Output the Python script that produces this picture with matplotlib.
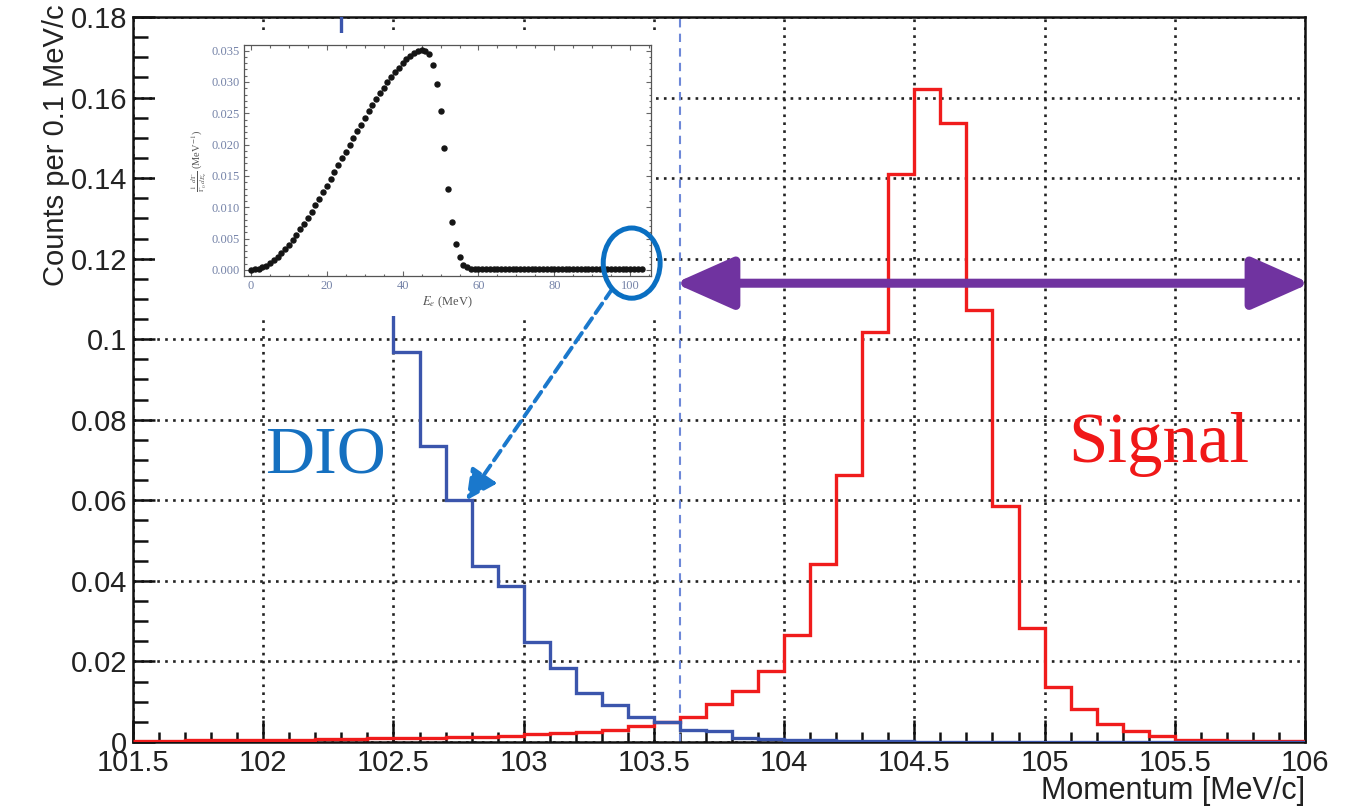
import numpy as np
import matplotlib
matplotlib.use("Agg")
from matplotlib import pyplot as plt
from matplotlib.patches import Rectangle, Ellipse
from matplotlib.ticker import MultipleLocator, FormatStrFormatter

plt.rcParams['font.family'] = ['Liberation Sans', 'DejaVu Sans']

# Histogram bins: 0.1 MeV/c wide from 101.5 to 106
bin_lo, bin_hi, bin_w = 101.5, 106.0, 0.1
signal_counts = [
    0.0003, 0.0003, 0.0004, 0.0004, 0.0005, 0.0005, 0.0006, 0.0007, 0.0008, 0.0009,
    0.0010, 0.0011, 0.0012, 0.0013, 0.0014,
    0.0019, 0.0022, 0.0025, 0.0030, 0.0040,
    0.0050, 0.0062, 0.0095, 0.0126, 0.0176,
    0.0266, 0.0442, 0.0663, 0.1018, 0.1410,
    0.1620, 0.1536, 0.1072, 0.0587, 0.0283,
    0.0137, 0.0083, 0.0044, 0.0027, 0.0014,
    0.0006, 0.0004, 0.0003, 0.0002, 0.0002,
]
# DIO: bins left of 102.3 are off scale, 102.3-102.5 hidden under the inset
dio_counts = [
    0.30, 0.29, 0.27, 0.26, 0.24, 0.23, 0.21, 0.20, 0.160, 0.125,
    0.0967, 0.0734, 0.0600, 0.0436, 0.0388,
    0.0248, 0.0184, 0.0122, 0.0093, 0.0062,
    0.0050, 0.0030, 0.0028, 0.0009, 0.0007,
    0.0005, 0.0004, 0.0003, 0.0002, 0.0002,
    0.0001, 0.0001, 0.0001, 0.0001, 0.0001,
    0.0001, 0.0001, 0.0001, 0.0001, 0.0001,
    0.0001, 0.0001, 0.0000, 0.0000, 0.0000,
]
cut_momentum = 103.6
window_lo, window_hi, window_y = 103.58, 106.02, 0.1139

# Inset: DIO spectrum, 1 MeV steps from 0 MeV
inset_spectrum = [
    0.0000, 0.0001, 0.0002, 0.0004, 0.0007, 0.0011, 0.0016, 0.0021, 0.0027, 0.0033,
    0.0040, 0.0048, 0.0056, 0.0065, 0.0074, 0.0083, 0.0093, 0.0103, 0.0113, 0.0124,
    0.0134, 0.0145, 0.0156, 0.0167, 0.0178, 0.0189, 0.0200, 0.0211, 0.0222, 0.0232,
    0.0243, 0.0253, 0.0263, 0.0273, 0.0282, 0.0291, 0.0300, 0.0308, 0.0316, 0.0323,
    0.0330, 0.0336, 0.0341, 0.0346, 0.0349, 0.0351, 0.0350, 0.0344, 0.0327, 0.0296,
    0.0254, 0.0194, 0.0130, 0.0077, 0.0041, 0.0020, 0.0008, 0.0004, 0.0002, 0.0001,
    0.0001, 0.0001, 0.0001, 0.0001, 0.0001, 0.0001, 0.0001, 0.0001, 0.0001, 0.0001,
    0.0001, 0.0001, 0.0001, 0.0001, 0.0001, 0.0001, 0.0001, 0.0001, 0.0001, 0.0001,
    0.0001, 0.0001, 0.0001, 0.0001, 0.0001, 0.0001, 0.0001, 0.0001, 0.0001, 0.0001,
    0.0001, 0.0001, 0.0001, 0.0001, 0.0001, 0.0001, 0.0001, 0.0001, 0.0001, 0.0001,
    0.0001, 0.0001, 0.0001, 0.0001,
]
zoom_point = (100.4, 0.0011)
dio_arrow_end = (102.78, 0.0600)

edges = np.round(np.linspace(bin_lo, bin_hi, len(signal_counts) + 1), 2)
energies = np.arange(len(inset_spectrum))

fig = plt.figure(figsize=(13.56, 8.08), dpi=100)
ax = fig.add_axes([0.0981, 0.0817, 0.8643, 0.8973])

ax.stairs(signal_counts, edges, baseline=None, color='#f01c1c', lw=2.4, zorder=3)
ax.stairs(dio_counts, edges, baseline=None, color='#3b55ac', lw=2.4, zorder=3)
ax.axvline(cut_momentum, color='#6d88d8', ls=(0, (4, 3)), lw=1.5, zorder=2)

ax.set_xlim(bin_lo, bin_hi)
ax.set_ylim(0, 0.18)
ax.xaxis.set_major_locator(MultipleLocator(0.5))
ax.xaxis.set_minor_locator(MultipleLocator(0.1))
ax.yaxis.set_major_locator(MultipleLocator(0.02))
ax.yaxis.set_minor_locator(MultipleLocator(0.005))
ax.xaxis.set_major_formatter(FormatStrFormatter('%g'))
ax.yaxis.set_major_formatter(FormatStrFormatter('%g'))
ax.tick_params(axis='both', which='both', direction='in', width=1.8, color='#111',
               labelsize=21, labelcolor='#222', top=False, right=False)
ax.tick_params(axis='y', which='major', length=16, pad=4)
ax.tick_params(axis='y', which='minor', length=10.5)
ax.tick_params(axis='x', which='major', length=16, pad=5)
ax.tick_params(axis='x', which='minor', length=7)
ax.grid(True, which='major', ls=(0, (1, 2.0)), color='#222', lw=1.9)
ax.set_axisbelow(True)
for s in ax.spines.values():
    s.set_linewidth(1.8)
    s.set_color('#111')

ax.set_ylabel('Counts per 0.1 MeV/c', fontsize=21, color='#222', loc='top')
ax.yaxis.set_label_coords(-0.054, 1.017)
ax.set_xlabel('Momentum [MeV/c]', fontsize=22, color='#222', loc='right')
ax.xaxis.set_label_coords(1.0, -0.047)

ax.text(102.24, 0.0667, 'DIO', family='Liberation Serif', fontsize=49,
        color='#1570c0', ha='center', va='baseline')
ax.text(105.44, 0.0695, 'Signal', family='Liberation Serif', fontsize=51,
        color='#f01818', ha='center', va='baseline')

ax.annotate('', xy=(window_hi, window_y), xytext=(window_lo, window_y),
            annotation_clip=False,
            arrowprops=dict(arrowstyle='<|-|>,head_length=3.6,head_width=1.6',
                            mutation_scale=10, lw=6.5, color='#7033a0',
                            shrinkA=0, shrinkB=0))

# white area behind the pasted inset
fig.add_artist(Rectangle((0.1143, 0.6089), 0.3695, 0.3502, transform=fig.transFigure,
                         facecolor='white', edgecolor='none', zorder=1))

axin = fig.add_axes([0.1799, 0.6584, 0.3002, 0.2859], zorder=2)
axin.plot(energies, inset_spectrum, 'o', ms=3.6, color='#151515', zorder=3)
axin.set_xlim(-1.85, 105.5)
axin.set_ylim(-0.00096, 0.0359)
axin.xaxis.set_major_locator(MultipleLocator(20))
axin.xaxis.set_minor_locator(MultipleLocator(5))
axin.yaxis.set_major_locator(MultipleLocator(0.005))
axin.yaxis.set_minor_locator(MultipleLocator(0.001))
axin.yaxis.set_major_formatter(FormatStrFormatter('%.3f'))
axin.tick_params(axis='both', which='both', direction='in', top=True, right=True,
                 color='#666', width=0.8, labelsize=9, labelcolor='#7583a8',
                 labelfontfamily='Liberation Serif', pad=3)
axin.tick_params(which='major', length=3.5)
axin.tick_params(which='minor', length=1.8)
for s in axin.spines.values():
    s.set_linewidth(0.9)
    s.set_color('#555')
axin.set_xlabel(r'$E_e$ (MeV)', fontsize=9, color='#555',
                family='Liberation Serif', math_fontfamily='stix', labelpad=2)
axin.set_ylabel(r'$\frac{1}{\Gamma_0}\frac{d\Gamma}{dE_e}$ (MeV$^{-1}$)', fontsize=7.5,
                color='#555', family='Liberation Serif', math_fontfamily='stix',
                labelpad=2)

axin.add_patch(Ellipse(zoom_point, 15.0, 0.0112, fill=False, lw=3.6,
                       ec='#0a6fc2', clip_on=False, zorder=5))
axin.annotate('', xy=dio_arrow_end, xycoords=ax.transData,
              xytext=(95.3, -0.0030), textcoords='data', annotation_clip=False,
              arrowprops=dict(arrowstyle='-|>,head_length=1.3,head_width=0.65',
                              mutation_scale=14, lw=2.8, ls=(0, (3, 1.6)),
                              color='#1a78cc', shrinkA=0, shrinkB=0))

fig.savefig('out.png', dpi=100)
